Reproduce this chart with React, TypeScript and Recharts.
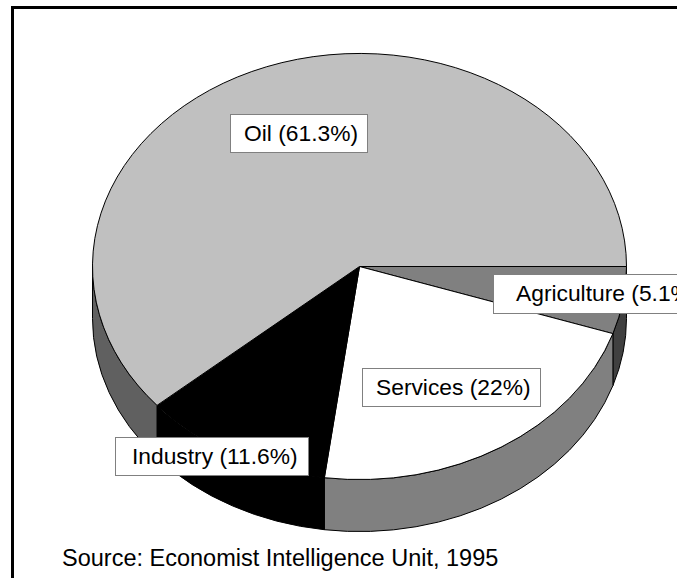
import React from "react";
import { PieChart, Pie, Cell } from "recharts";

const sectors = ["Agriculture", "Services", "Industry", "Oil"];
const shares = [5.1, 22, 11.6, 61.3];
const topColors = ["#808080", "#ffffff", "#000000", "#c0c0c0"];
const sideColors = ["#404040", "#808080", "#000000", "#606060"];

const chartData = sectors.map((name, i) => ({ name, value: shares[i] }));

// label boxes, same order as sectors: left, top, width, height, text left
const labelBoxes = [
  [493, 274, 200, 39, 516],
  [362, 368, 178, 38, 376],
  [115, 437, 193, 38, 132],
  [230, 114, 137, 38, 244],
];

const FLATTEN = 0.798; // ry / rx of the tilted disc
const DEPTH = 52; // height of the disc wall

const toRad = (deg: number) => (deg * Math.PI) / 180;

function Slice3D(props: any) {
  const { cx, cy, outerRadius, startAngle, endAngle, index } = props;
  const rx = outerRadius;
  const ry = outerRadius * FLATTEN;
  const at = (deg: number) => [cx + rx * Math.cos(toRad(deg)), cy - ry * Math.sin(toRad(deg))];

  const [x0, y0] = at(startAngle);
  const [x1, y1] = at(endAngle);
  const large = Math.abs(endAngle - startAngle) > 180 ? 1 : 0;
  const top = `M${cx},${cy} L${x0},${y0} A${rx},${ry} 0 ${large} 1 ${x1},${y1} Z`;

  // wall: only the front half of the disc shows (math angles 0 to -180)
  const from = Math.max(startAngle, -180);
  const to = Math.max(endAngle, -180);
  let wall = null;
  if (from > to) {
    const [wx0, wy0] = at(from);
    const [wx1, wy1] = at(to);
    wall = (
      <path
        d={`M${wx0},${wy0} A${rx},${ry} 0 0 1 ${wx1},${wy1} L${wx1},${wy1 + DEPTH} A${rx},${ry} 0 0 0 ${wx0},${wy0 + DEPTH} Z`}
        fill={sideColors[index]}
        stroke="#000"
        strokeWidth={1}
      />
    );
  }

  return (
    <g>
      {wall}
      <path d={top} fill={topColors[index]} stroke="#000" strokeWidth={1} />
    </g>
  );
}

function SliceLabel(props: any) {
  const { index, name, value } = props;
  const [x, y, w, h, textX] = labelBoxes[index];
  return (
    <g>
      <rect x={x + 0.5} y={y + 0.5} width={w} height={h} fill="#fff" stroke="#808080" strokeWidth={1} />
      <text x={textX} y={y + 27} fontSize={22.8} fontFamily="Liberation Sans, Arial, sans-serif" fill="#000">
        {`${name} (${value}%)`}
      </text>
    </g>
  );
}

export default function App() {
  return (
    <div style={{ position: "absolute", left: 0, top: 0, width: 677, height: 578, overflow: "hidden", background: "#fff" }}>
      <PieChart width={677} height={578} margin={{ top: 0, right: 0, bottom: 0, left: 0 }}>
        <Pie
          data={chartData}
          dataKey="value"
          nameKey="name"
          cx={359.5}
          cy={266.5}
          outerRadius={267}
          startAngle={0}
          endAngle={-360}
          shape={Slice3D}
          label={SliceLabel}
          labelLine={false}
          isAnimationActive={false}
        >
          {chartData.map((d, i) => (
            <Cell key={d.name} fill={topColors[i]} />
          ))}
        </Pie>
      </PieChart>
      <div style={{ position: "absolute", left: 11, top: 6, width: 666, height: 572, borderTop: "3px solid #000", borderLeft: "3px solid #000", boxSizing: "border-box" }} />
      <div style={{ position: "absolute", left: 62, top: 544, lineHeight: "28px", fontSize: 23.5, fontFamily: "Liberation Sans, Arial, sans-serif", color: "#000", whiteSpace: "nowrap" }}>
        Source: Economist Intelligence Unit, 1995
      </div>
    </div>
  );
}
